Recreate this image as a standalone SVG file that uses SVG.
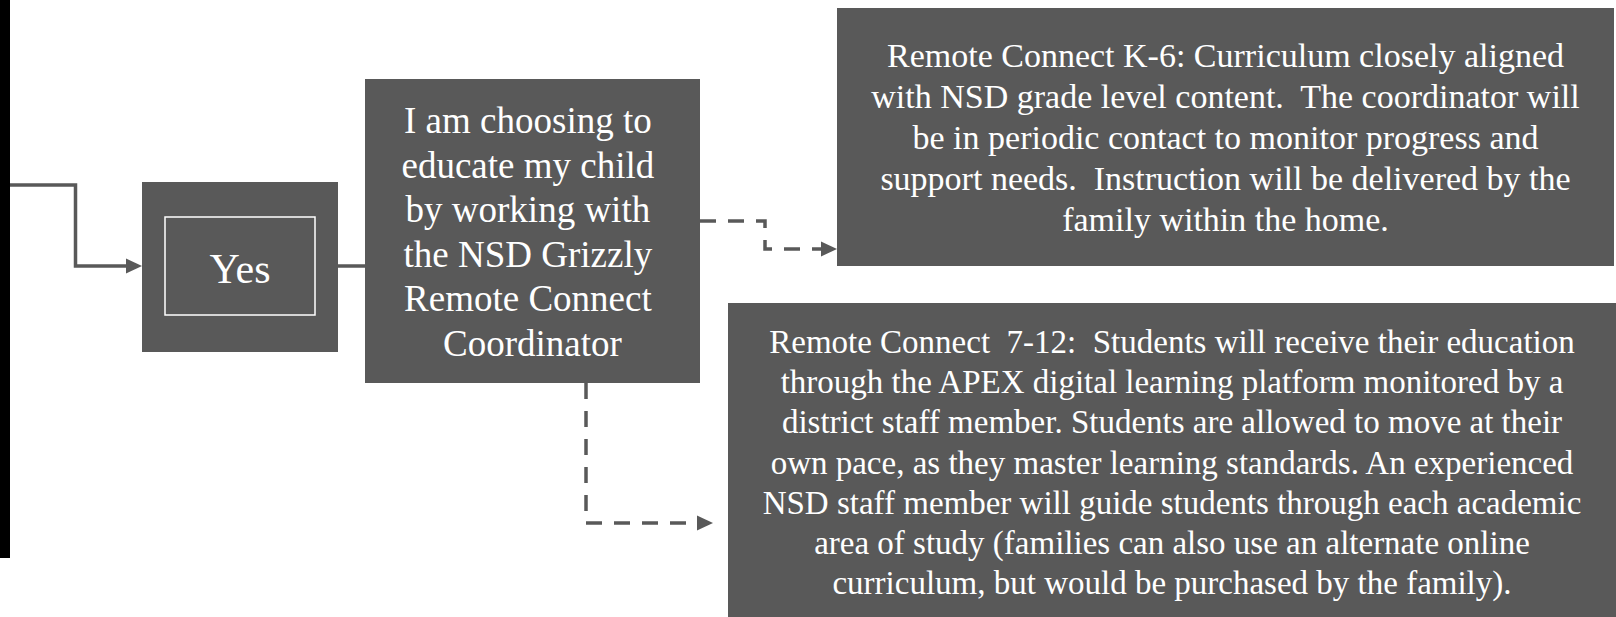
<svg xmlns="http://www.w3.org/2000/svg" width="1616" height="617" viewBox="0 0 1616 617">
<style>
.box{fill:#595959;}
.t{font-family:"Liberation Serif","Times New Roman",serif;fill:#ffffff;text-anchor:middle;}
.c{fill:none;stroke:#595959;stroke-width:3.5;}
.d{stroke-dasharray:16 12;}
</style>
<defs>
<marker id="ah" markerUnits="userSpaceOnUse" markerWidth="16" markerHeight="16" viewBox="0 0 16 16" refX="0" refY="8" orient="auto">
<path d="M0,0.5 L16,8 L0,15.5 Z" fill="#595959"/>
</marker>
</defs>
<rect x="0" y="0" width="1616" height="617" fill="#ffffff"/>
<rect id="leftbar" x="0" y="0" width="10" height="558" fill="#000000"/>
<g id="connectors">
<path class="c" d="M10,185 H75.5 V266 H126" marker-end="url(#ah)"/>
<path class="c" d="M338,266 H365"/>
<path class="c d" d="M700,221 H765 V249 H821" marker-end="url(#ah)"/>
<path class="c d" d="M586,383 V523 H697" marker-end="url(#ah)"/>
</g>
<g id="yes">
<rect class="box" x="142" y="182" width="196" height="170"/>
<rect x="165" y="217" width="150" height="98" fill="none" stroke="#ffffff" stroke-width="1.5"/>
<text class="t" x="240" y="283" font-size="42">Yes</text>
</g>
<g id="choosing">
<rect class="box" x="365" y="79" width="335" height="304"/>
<text class="t" font-size="37">
<tspan x="532.5" y="133">I am choosing to</tspan>
<tspan x="532.5" y="177.6">educate my child</tspan>
<tspan x="532.5" y="222.2">by working with</tspan>
<tspan x="532.5" y="266.8">the NSD Grizzly</tspan>
<tspan x="532.5" y="311.4">Remote Connect</tspan>
<tspan x="532.5" y="356">Coordinator</tspan>
</text>
</g>
<g id="k6">
<rect class="box" x="837" y="8" width="777" height="258"/>
<text class="t" font-size="34" xml:space="preserve"><tspan x="1225.5" y="67">Remote Connect K-6: Curriculum closely aligned</tspan><tspan x="1225.5" y="108">with NSD grade level content.  The coordinator will</tspan><tspan x="1225.5" y="149">be in periodic contact to monitor progress and</tspan><tspan x="1225.5" y="190">support needs.  Instruction will be delivered by the</tspan><tspan x="1225.5" y="231">family within the home.</tspan></text>
</g>
<g id="g712">
<rect class="box" x="728" y="303" width="888" height="314"/>
<text class="t" font-size="33" xml:space="preserve"><tspan x="1172" y="353">Remote Connect  7-12:  Students will receive their education</tspan><tspan x="1172" y="393.2">through the APEX digital learning platform monitored by a</tspan><tspan x="1172" y="433.4">district staff member. Students are allowed to move at their</tspan><tspan x="1172" y="473.6">own pace, as they master learning standards. An experienced</tspan><tspan x="1172" y="513.8">NSD staff member will guide students through each academic</tspan><tspan x="1172" y="554">area of study (families can also use an alternate online</tspan><tspan x="1172" y="594.2">curriculum, but would be purchased by the family).</tspan></text>
</g>
</svg>
